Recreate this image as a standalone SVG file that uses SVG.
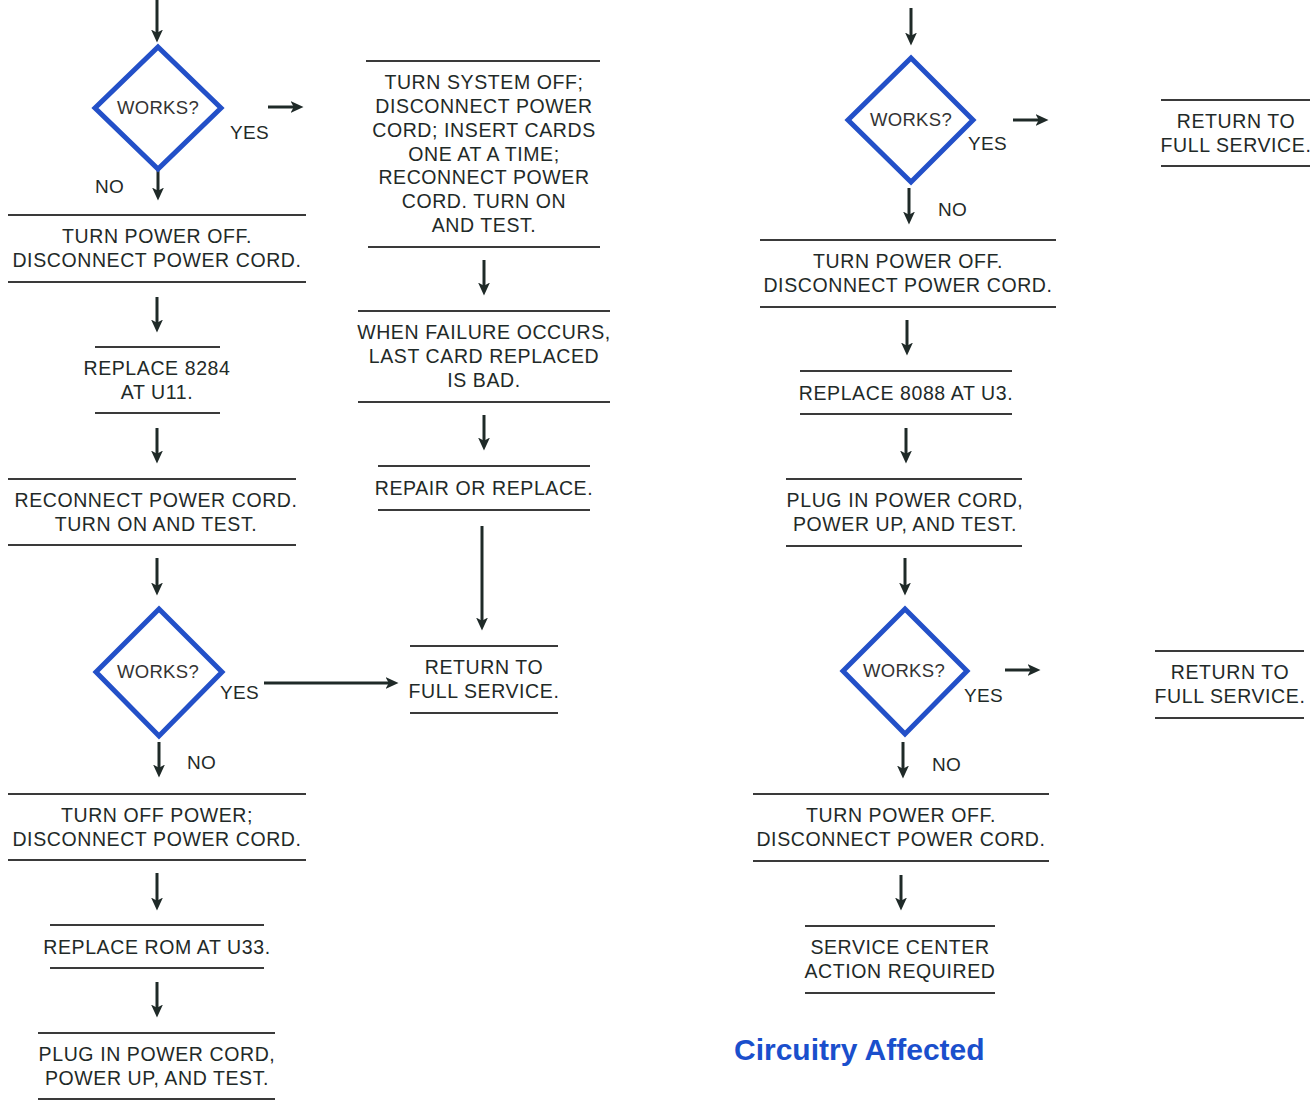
<svg xmlns="http://www.w3.org/2000/svg" width="1312" height="1101" viewBox="0 0 1312 1101">
<defs>
<marker id="ah" viewBox="0 0 12 12" refX="6" refY="6" markerWidth="13" markerHeight="13" markerUnits="userSpaceOnUse" orient="auto">
<path d="M0,0.5 L12,6 L0,11.5 L3,6 Z" fill="#1f2a28"/>
</marker>
<style>
.t{font-family:"Liberation Sans",Arial,sans-serif;font-size:19.5px;letter-spacing:0.6px;fill:#1f2a28;text-anchor:middle}
.l{font-family:"Liberation Sans",Arial,sans-serif;font-size:19px;letter-spacing:0.3px;fill:#1f2a28}
.w{font-family:"Liberation Sans",Arial,sans-serif;font-size:18.5px;letter-spacing:0.3px;fill:#333;text-anchor:middle}
.r{stroke:#3a3a3a;stroke-width:2;fill:none}
.d{stroke:#2350c8;stroke-width:5;fill:#fff;stroke-linejoin:miter}
.a{stroke:#1f2a28;stroke-width:3;fill:none;marker-end:url(#ah)}
.ttl{font-family:"Liberation Sans",Arial,sans-serif;font-size:30px;font-weight:bold;fill:#1a4fcc}
</style>
</defs>
<rect width="1312" height="1101" fill="#fff"/>

<g id="connectors">
<path class="a" d="M157,0 V36"/>
<path class="a" d="M268,107 H297"/>
<path class="a" d="M158,170 V194"/>
<path class="a" d="M157,297 V326"/>
<path class="a" d="M157,428 V457"/>
<path class="a" d="M157,558 V589"/>
<path class="a" d="M264,683 H392"/>
<path class="a" d="M159,742 V771"/>
<path class="a" d="M157,873 V904"/>
<path class="a" d="M157,982 V1011"/>
<path class="a" d="M484,260 V289"/>
<path class="a" d="M484,415 V444"/>
<path class="a" d="M482,526 V624"/>
<path class="a" d="M911,8 V39"/>
<path class="a" d="M1013,120 H1042"/>
<path class="a" d="M909,188 V218"/>
<path class="a" d="M907,320 V349"/>
<path class="a" d="M906,428 V457"/>
<path class="a" d="M905,558 V589"/>
<path class="a" d="M1005,670 H1034"/>
<path class="a" d="M903,742 V772"/>
<path class="a" d="M901,875 V904"/>
</g>

<g id="d1">
<polygon class="d" points="158,47 221,108 158,169 95,108"/>
<text class="w" x="158" y="114">WORKS?</text>
<text class="l" x="230" y="139">YES</text>
<text class="l" x="95" y="193">NO</text>
</g>
<g id="b1">
<line class="r" x1="8" y1="215" x2="306" y2="215"/>
<text class="t" x="157" y="243">TURN POWER OFF.</text>
<text class="t" x="157" y="267">DISCONNECT POWER CORD.</text>
<line class="r" x1="8" y1="282" x2="306" y2="282"/>
</g>
<g id="b2">
<line class="r" x1="95" y1="347" x2="220" y2="347"/>
<text class="t" x="157" y="375">REPLACE 8284</text>
<text class="t" x="157" y="399">AT U11.</text>
<line class="r" x1="95" y1="413" x2="220" y2="413"/>
</g>
<g id="b3">
<line class="r" x1="8" y1="479" x2="296" y2="479"/>
<text class="t" x="156" y="507">RECONNECT POWER CORD.</text>
<text class="t" x="156" y="531">TURN ON AND TEST.</text>
<line class="r" x1="8" y1="545" x2="296" y2="545"/>
</g>
<g id="d2">
<polygon class="d" points="159,609 222,672 159,736 96,672"/>
<text class="w" x="158" y="678">WORKS?</text>
<text class="l" x="220" y="699">YES</text>
<text class="l" x="187" y="769">NO</text>
</g>
<g id="b4">
<line class="r" x1="8" y1="794" x2="306" y2="794"/>
<text class="t" x="157" y="822">TURN OFF POWER;</text>
<text class="t" x="157" y="846">DISCONNECT POWER CORD.</text>
<line class="r" x1="8" y1="860" x2="306" y2="860"/>
</g>
<g id="b5">
<line class="r" x1="50" y1="925" x2="264" y2="925"/>
<text class="t" x="157" y="954">REPLACE ROM AT U33.</text>
<line class="r" x1="50" y1="968" x2="264" y2="968"/>
</g>
<g id="b6">
<line class="r" x1="38" y1="1033" x2="275" y2="1033"/>
<text class="t" x="157" y="1061">PLUG IN POWER CORD,</text>
<text class="t" x="157" y="1085">POWER UP, AND TEST.</text>
<line class="r" x1="38" y1="1099" x2="275" y2="1099"/>
</g>

<g id="m1">
<line class="r" x1="366" y1="61" x2="600" y2="61"/>
<text class="t" x="484" y="89">TURN SYSTEM OFF;</text>
<text class="t" x="484" y="113">DISCONNECT POWER</text>
<text class="t" x="484" y="137">CORD; INSERT CARDS</text>
<text class="t" x="484" y="161">ONE AT A TIME;</text>
<text class="t" x="484" y="184">RECONNECT POWER</text>
<text class="t" x="484" y="208">CORD. TURN ON</text>
<text class="t" x="484" y="232">AND TEST.</text>
<line class="r" x1="368" y1="247" x2="600" y2="247"/>
</g>
<g id="m2">
<line class="r" x1="358" y1="311" x2="610" y2="311"/>
<text class="t" x="484" y="339">WHEN FAILURE OCCURS,</text>
<text class="t" x="484" y="363">LAST CARD REPLACED</text>
<text class="t" x="484" y="387">IS BAD.</text>
<line class="r" x1="358" y1="402" x2="610" y2="402"/>
</g>
<g id="m3">
<line class="r" x1="378" y1="466" x2="590" y2="466"/>
<text class="t" x="484" y="495">REPAIR OR REPLACE.</text>
<line class="r" x1="378" y1="510" x2="590" y2="510"/>
</g>
<g id="m4">
<line class="r" x1="410" y1="646" x2="558" y2="646"/>
<text class="t" x="484" y="674">RETURN TO</text>
<text class="t" x="484" y="698">FULL SERVICE.</text>
<line class="r" x1="410" y1="713" x2="558" y2="713"/>
</g>

<g id="d3">
<polygon class="d" points="911,58 973,120 911,182 848,120"/>
<text class="w" x="911" y="126">WORKS?</text>
<text class="l" x="968" y="150">YES</text>
<text class="l" x="938" y="216">NO</text>
</g>
<g id="r1">
<line class="r" x1="1161" y1="100" x2="1310" y2="100"/>
<text class="t" x="1236" y="128">RETURN TO</text>
<text class="t" x="1236" y="152">FULL SERVICE.</text>
<line class="r" x1="1161" y1="166" x2="1310" y2="166"/>
</g>
<g id="r2">
<line class="r" x1="760" y1="240" x2="1056" y2="240"/>
<text class="t" x="908" y="268">TURN POWER OFF.</text>
<text class="t" x="908" y="292">DISCONNECT POWER CORD.</text>
<line class="r" x1="760" y1="307" x2="1056" y2="307"/>
</g>
<g id="r3">
<line class="r" x1="800" y1="371" x2="1012" y2="371"/>
<text class="t" x="906" y="400">REPLACE 8088 AT U3.</text>
<line class="r" x1="800" y1="414" x2="1012" y2="414"/>
</g>
<g id="r4">
<line class="r" x1="786" y1="479" x2="1022" y2="479"/>
<text class="t" x="905" y="507">PLUG IN POWER CORD,</text>
<text class="t" x="905" y="531">POWER UP, AND TEST.</text>
<line class="r" x1="786" y1="546" x2="1022" y2="546"/>
</g>
<g id="d4">
<polygon class="d" points="905,609 967,671 905,734 843,671"/>
<text class="w" x="904" y="677">WORKS?</text>
<text class="l" x="964" y="702">YES</text>
<text class="l" x="932" y="771">NO</text>
</g>
<g id="r5">
<line class="r" x1="1155" y1="651" x2="1304" y2="651"/>
<text class="t" x="1230" y="679">RETURN TO</text>
<text class="t" x="1230" y="703">FULL SERVICE.</text>
<line class="r" x1="1155" y1="718" x2="1304" y2="718"/>
</g>
<g id="r6">
<line class="r" x1="753" y1="794" x2="1049" y2="794"/>
<text class="t" x="901" y="822">TURN POWER OFF.</text>
<text class="t" x="901" y="846">DISCONNECT POWER CORD.</text>
<line class="r" x1="753" y1="861" x2="1049" y2="861"/>
</g>
<g id="r7">
<line class="r" x1="805" y1="926" x2="995" y2="926"/>
<text class="t" x="900" y="954">SERVICE CENTER</text>
<text class="t" x="900" y="978">ACTION REQUIRED</text>
<line class="r" x1="805" y1="993" x2="995" y2="993"/>
</g>

<text class="ttl" x="734" y="1060">Circuitry Affected</text>
</svg>
